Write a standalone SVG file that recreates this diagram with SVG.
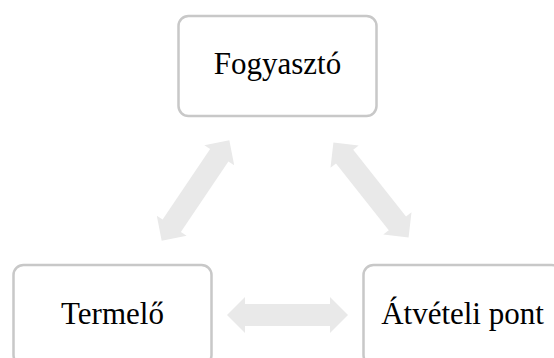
<svg xmlns="http://www.w3.org/2000/svg" width="554" height="358" viewBox="0 0 554 358">
<style>
.box{fill:#ffffff;stroke:#c8c8c8;stroke-width:2.5}
.lbl{font-family:"Liberation Serif","Times New Roman",serif;font-size:31px;fill:#000000;text-anchor:middle}
.arr{fill:#e9e9e9}
</style>
<defs>
<path id="dbl" d="M-60.5,0 L-42.5,-18 L-42.5,-11 L42.5,-11 L42.5,-18 L60.5,0 L42.5,18 L42.5,11 L-42.5,11 L-42.5,18 Z"/>
</defs>
<rect width="554" height="358" fill="#ffffff"/>
<g id="connectors">
<use href="#dbl" class="arr" transform="translate(195.5,190.5) rotate(-56)"/>
<use href="#dbl" class="arr" transform="translate(371,190) rotate(51.6)"/>
<use href="#dbl" class="arr" transform="translate(287.5,315)"/>
</g>
<g id="fogyaszto">
<rect class="box" x="178.5" y="16" width="198" height="100" rx="10"/>
<text class="lbl" x="277.5" y="74">Fogyasztó</text>
</g>
<g id="termelo">
<rect class="box" x="13.5" y="265" width="198" height="100" rx="10"/>
<text class="lbl" x="112.5" y="324">Termelő</text>
</g>
<g id="atveteli">
<rect class="box" x="363.5" y="265" width="198" height="100" rx="10"/>
<text class="lbl" x="462.5" y="324">Átvételi pont</text>
</g>
</svg>
